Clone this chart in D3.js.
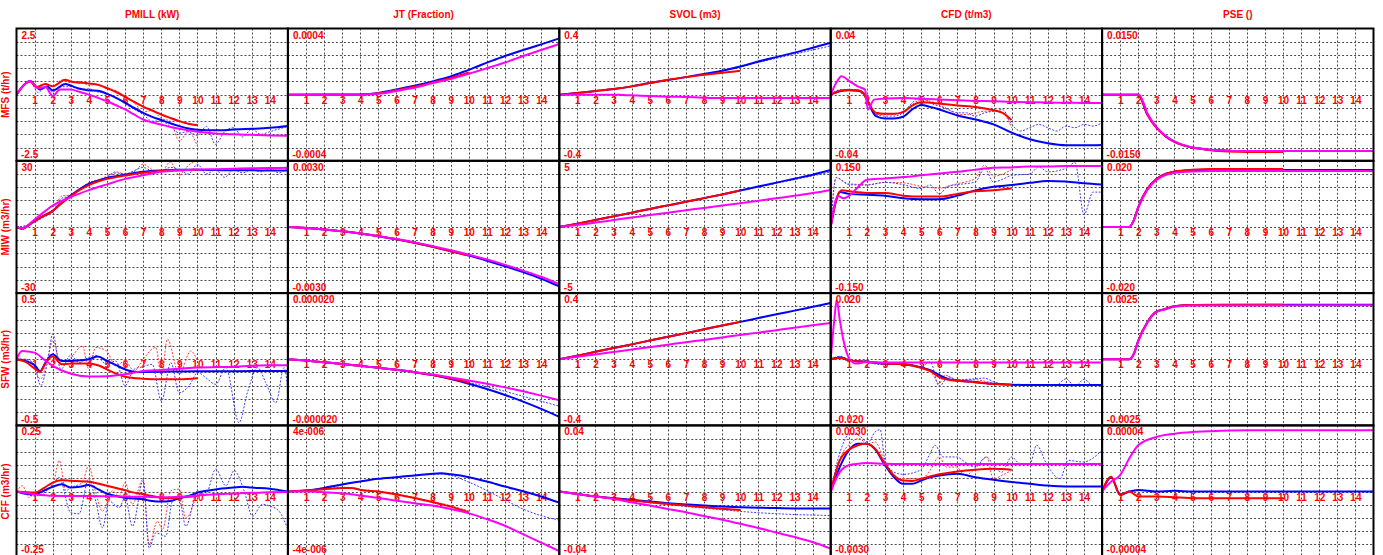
<!DOCTYPE html>
<html>
<head>
<meta charset="utf-8">
<script src="https://cdn.jsdelivr.net/npm/d3@7"></script>
<style>
  body { margin: 0; background: #fff; }
  svg { display: block; }
  text { font-family: "Liberation Sans", Arial, sans-serif; font-weight: bold; fill: #ff0000; }
</style>
</head>
<body>
<svg id="chart" width="1383" height="555"></svg>
<script>
// ---- Labels and scales ---------------------------------------------------
const outputs = ["PMILL (kW)", "JT (Fraction)", "SVOL (m3)", "CFD (t/m3)", "PSE ()"];
const inputs = ["MFS (t/hr)", "MIW (m3/hr)", "SFW (m3/hr)", "CFF (m3/hr)"];
const xTicks = [1, 2, 3, 4, 5, 6, 7, 8, 9, 10, 11, 12, 13, 14];
const yLimits = [
  [2.5, 0.0004, 0.4, 0.04, 0.015],
  [30, 0.003, 5, 0.15, 0.02],
  [0.5, 0.00002, 0.4, 0.02, 0.0025],
  [0.25, 0.000004, 0.04, 0.003, 0.00004]
];
const topLabels = [
  ["2.5", "0.0004", "0.4", "0.04", "0.0150"],
  ["30", "0.0030", "5", "0.150", "0.020"],
  ["0.5", "0.000020", "0.4", "0.020", "0.0025"],
  ["0.25", "4e-006", "0.04", "0.0030", "0.00004"]
];
const bottomLabels = [
  ["-2.5", "-0.0004", "-0.4", "-0.04", "-0.0150"],
  ["-30", "-0.0030", "-5", "-0.150", "-0.020"],
  ["-0.5", "-0.000020", "-0.4", "-0.020", "-0.0025"],
  ["-0.25", "-4e-006", "-0.04", "-0.0030", "-0.00004"]
];

// ---- Step responses: [time, value] ----------------------------------------
// MFS row
const mfsPmillRed = [[0,0],[0.5,0.42],[0.75,0.5],[1.1,0.28],[1.6,0.4],[2,0.32],[2.7,0.56],[3,0.5],[4,0.42],[4.5,0.37],[5,0.25],[5.5,0.1],[6,-0.08],[6.5,-0.27],[7,-0.45],[7.5,-0.6],[8,-0.75],[8.5,-0.88],[9,-1.0],[9.5,-1.1],[10,-1.16]];
const mfsPmillBlue = [[0,0],[0.5,0.42],[0.75,0.52],[1.3,0.19],[1.7,0.31],[2,0.16],[2.7,0.4],[3,0.34],[3.5,0.22],[4,0.16],[4.5,0.15],[5,0.03],[5.5,-0.12],[6,-0.3],[6.5,-0.5],[7,-0.69],[7.5,-0.84],[8,-0.96],[8.5,-1.08],[9,-1.19],[9.5,-1.28],[10,-1.33],[11,-1.35],[12,-1.32],[13,-1.29],[14,-1.25],[15,-1.18]];
const mfsPmillMag = [[0,0],[0.5,0.42],[0.75,0.52],[1.2,0.25],[1.6,0.29],[2,-0.05],[2.4,0.19],[3,0.19],[3.5,0.1],[4,0],[4.5,-0.12],[5,-0.25],[5.5,-0.4],[6,-0.56],[6.5,-0.75],[7,-0.94],[7.5,-1.05],[8,-1.13],[8.5,-1.22],[9,-1.29],[9.5,-1.35],[10,-1.4],[11,-1.47],[12,-1.5],[13,-1.52],[14,-1.54],[15,-1.55]];
const mfsPmillBlueDash = [[0,0],[0.5,0.4],[0.75,0.5],[1.2,0.08],[1.6,0.3],[2,0.12],[2.5,0.3],[3,0.3],[3.5,0.2],[4,0.22],[4.5,0.1],[5,0.05],[5.5,-0.1],[6,-0.35],[6.5,-0.55],[7,-0.75],[7.5,-1.0],[8,-1.0],[8.5,-1.2],[9,-1.45],[9.5,-1.4],[10,-1.55],[10.5,-1.2],[11,-1.88],[11.5,-1.4],[12,-1.25],[12.5,-1.6],[13,-1.3],[13.5,-1.5],[14,-1.4],[14.5,-1.3],[15,-1.2]];
const mfsPmillRedDash = [[0,0],[0.5,0.4],[0.75,0.5],[1.1,0.3],[1.5,0.4],[2,0.3],[2.5,0.55],[3,0.45],[3.5,0.5],[4,0.35],[4.5,0.4],[5,0.2],[5.5,0.15],[6,-0.1],[6.5,-0.3],[7,-0.65],[7.5,-0.6],[8,-0.9],[8.5,-1.0],[9,-1.75],[9.5,-1.4],[10,-1.95]];

const mfsJtRed = [[0,0],[4,0],[4.5,3e-6],[5,8e-6],[5.5,16e-6],[6,28e-6],[6.5,38e-6],[7,48e-6],[7.5,60e-6],[8,74e-6],[8.5,87e-6],[9,100e-6],[9.5,117e-6],[10,134e-6]];
const mfsJtBlue = [[0,0],[4,1e-6],[4.5,4e-6],[5,10e-6],[5.5,20e-6],[6,32e-6],[6.5,43e-6],[7,54e-6],[7.5,66e-6],[8,80e-6],[8.5,95e-6],[9,110e-6],[9.5,130e-6],[10,150e-6],[10.5,172e-6],[11,194e-6],[11.5,214e-6],[12,234e-6],[12.5,252e-6],[13,270e-6],[13.5,287e-6],[14,304e-6],[14.5,322e-6],[15,340e-6]];
const mfsJtMag = [[0,0],[4,0],[4.5,2e-6],[5,6e-6],[5.5,12e-6],[6,22e-6],[6.5,32e-6],[7,42e-6],[7.5,55e-6],[8,70e-6],[8.5,82e-6],[9,94e-6],[9.5,110e-6],[10,126e-6],[10.5,143e-6],[11,160e-6],[11.5,177e-6],[12,194e-6],[12.5,214e-6],[13,234e-6],[13.5,252e-6],[14,270e-6],[14.5,288e-6],[15,306e-6]];

const mfsSvolRed = [[0,0],[1,0.01],[2,0.022],[3,0.034],[4,0.05],[5,0.07],[6,0.09],[7,0.106],[8,0.12],[9,0.132],[10,0.144]];
const mfsSvolBlue = [[0,0],[1,0.01],[2,0.022],[3,0.034],[4,0.05],[5,0.07],[6,0.088],[7,0.106],[8,0.125],[9,0.144],[10,0.17],[11,0.2],[12,0.227],[13,0.254],[14,0.284],[15,0.314]];
const mfsSvolMag = [[0,0],[3,0],[3.5,-0.002],[4,-0.004],[5,-0.008],[6,-0.012],[7,-0.014],[8,-0.018],[9,-0.02],[15,-0.02]];
const mfsSvolBlueDash = [[0,0],[1,0.01],[2,0.022],[3,0.034],[4,0.05],[5,0.07],[6,0.088],[7,0.106],[8,0.125],[9,0.144],[10,0.168],[11,0.195],[12,0.22],[13,0.245],[14,0.27],[15,0.295]];

const mfsCfdRed = [[0,0],[0.5,0.0022],[1,0.0028],[1.5,0.0026],[1.8,0.001],[2,-0.003],[2.5,-0.011],[3,-0.0116],[3.5,-0.0116],[4,-0.0106],[4.5,-0.0066],[5,-0.0046],[6,-0.0054],[7,-0.0066],[8,-0.0074],[9,-0.0094],[9.5,-0.011],[10,-0.0154]];
const mfsCfdBlue = [[0,0],[0.5,0.002],[1,0.0026],[1.5,0.0024],[1.8,0.001],[2,-0.003],[2.5,-0.013],[3,-0.0144],[3.5,-0.0144],[4,-0.0134],[4.5,-0.009],[5,-0.0062],[5.5,-0.0074],[6,-0.009],[7,-0.0126],[8,-0.015],[9,-0.018],[10,-0.023],[11,-0.027],[12,-0.0294],[13,-0.0306],[14,-0.0306],[15,-0.0304]];
const mfsCfdMag = [[0,0],[0.3,0.007],[0.6,0.0112],[1,0.0085],[1.5,0.005],[1.9,0.003],[2.05,-0.009],[2.4,-0.003],[3,-0.0024],[4,-0.002],[5,-0.0025],[6,-0.003],[7,-0.0034],[8,-0.0038],[9,-0.004],[10,-0.0044],[11,-0.0046],[12,-0.0048],[13,-0.0049],[14,-0.005],[15,-0.005]];
const mfsCfdBlueDash = [[0,0],[0.5,0.003],[1,0.0032],[1.5,0.0025],[2,-0.002],[2.5,-0.012],[3,-0.013],[3.5,-0.013],[4,-0.011],[4.5,-0.005],[5,-0.001],[5.5,-0.005],[6,-0.007],[6.5,-0.009],[7,-0.011],[7.5,-0.011],[8,-0.013],[8.5,-0.011],[9,-0.01],[9.5,-0.009],[10,-0.018],[10.5,-0.022],[11,-0.02],[11.5,-0.018],[12,-0.02],[12.5,-0.022],[13,-0.019],[13.5,-0.02],[14,-0.018],[14.5,-0.019],[15,-0.017]];
const mfsCfdRedDash = [[0,0],[0.5,0.0025],[1,0.003],[1.5,0.002],[2,-0.003],[2.5,-0.012],[3,-0.012],[3.5,-0.012],[4,-0.01],[4.5,-0.006],[5,-0.003],[5.5,-0.004],[6,-0.006],[6.5,-0.009],[7,-0.012],[7.5,-0.012],[8,-0.011],[8.5,-0.01],[9,-0.01],[9.5,-0.011],[10,-0.02]];

const mfsPseRed = [[0,0],[2,0],[2.5,-0.0045],[3,-0.0075],[3.5,-0.0094],[4,-0.0107],[4.5,-0.0115],[5,-0.012],[6,-0.0126],[7,-0.0129],[8,-0.013],[10,-0.013]];
const mfsPseBlue = [[0,0],[2,0],[2.5,-0.0045],[3,-0.0075],[3.5,-0.0094],[4,-0.0107],[4.5,-0.0115],[5,-0.012],[6,-0.0125],[7,-0.0127],[8,-0.0128],[15,-0.0128]];
const mfsPseMag = [[0,0],[2.05,0],[2.5,-0.0042],[3,-0.0073],[3.5,-0.0093],[4,-0.0106],[4.5,-0.0114],[5,-0.012],[6,-0.0125],[7,-0.0127],[8,-0.0128],[15,-0.0128]];

// MIW row
const miwPmillRed = [[0,0],[0.3,-0.8],[1,2.8],[1.5,5],[2,7.3],[2.5,10.8],[3,14],[3.5,16.8],[4,19],[4.5,20.6],[5,21.8],[5.5,22.6],[6,23.3],[7,24.6],[8,25.4],[9,25.8],[10,25.9]];
const miwPmillBlue = [[0,0],[0.3,-0.8],[1,2.8],[1.5,5],[2,7.3],[2.5,11],[3,14.3],[3.5,17.2],[4,19.5],[4.5,21],[5,22.2],[5.5,23],[6,23.7],[7,25],[8,25.6],[9,25.9],[10,25.9],[11,25.8],[12,25.7],[13,25.7],[14,25.6],[15,25.6]];
const miwPmillMag = [[0,0],[0.3,-0.6],[1,3.4],[2,9.7],[3,13.6],[4,16.7],[5,19.3],[6,21.8],[7,23.4],[8,25],[9,25.6],[10,26],[11,26.2],[12,26.4],[13,26.6],[14,26.7],[15,26.8]];
const miwPmillBlueDash = [[0,0],[0.5,0.5],[1,2],[1.5,4.5],[2,6.5],[2.5,13],[3,14],[3.5,17],[4,20],[4.5,21],[5,22.5],[5.5,24.5],[6,24],[6.5,25.5],[7,27],[7.5,25.5],[8,25.5],[8.5,27],[9,26],[9.5,24],[10,28.4],[10.5,24],[11,26],[11.5,22.5],[12,26],[12.5,24.5],[13,26],[13.5,25],[14,26.5],[14.5,24.5],[15,27]];
const miwPmillRedDash = [[0,0],[0.5,0.5],[1,2.5],[1.5,4.5],[2,7],[2.5,14],[3,14.5],[3.5,17.5],[4,20],[4.5,21.5],[5,23],[5.5,25],[6,24],[6.5,25],[7,28.5],[7.5,26],[8,25],[8.5,29.5],[9,23.5],[9.5,28],[10,30]];

const miwJtRed = [[0,0],[1,-0.00005],[2,-0.00012],[3,-0.0002],[4,-0.0003],[5,-0.00042],[6,-0.00056],[7,-0.00072],[8,-0.0009],[9,-0.0011],[10,-0.0013]];
const miwJtBlue = [[0,0],[1,-0.00005],[2,-0.00012],[3,-0.0002],[4,-0.0003],[5,-0.00042],[6,-0.00056],[7,-0.00072],[8,-0.0009],[9,-0.0011],[10,-0.0013],[11,-0.00153],[12,-0.00178],[13,-0.00205],[14,-0.00235],[15,-0.0027]];
const miwJtMag = [[0,0],[1,-0.00005],[2,-0.00012],[3,-0.0002],[4,-0.0003],[5,-0.00042],[6,-0.00055],[7,-0.0007],[8,-0.00087],[9,-0.00106],[10,-0.00126],[11,-0.00148],[12,-0.00172],[13,-0.00198],[14,-0.00226],[15,-0.0026]];

const miwSvolRed = [[0,0],[1,0.25],[2,0.52],[3,0.8],[4,1.08],[5,1.36],[6,1.63],[7,1.9],[8,2.18],[9,2.46],[10,2.76]];
const miwSvolBlue = [[0,0],[1,0.25],[2,0.52],[3,0.8],[4,1.08],[5,1.36],[6,1.63],[7,1.9],[8,2.18],[9,2.46],[10,2.76],[11,3.05],[12,3.35],[13,3.65],[14,3.95],[15,4.3]];
const miwSvolMag = [[0,0],[1,0.15],[2,0.33],[3,0.52],[4,0.71],[5,0.9],[6,1.08],[7,1.26],[8,1.44],[9,1.62],[10,1.8],[11,1.98],[12,2.17],[13,2.36],[14,2.56],[15,2.8]];
const miwSvolBlueDash = [[0,0],[1,0.25],[2,0.52],[3,0.8],[4,1.08],[5,1.36],[6,1.63],[7,1.9],[8,2.18],[9,2.46],[10,2.74],[11,3.02],[12,3.3],[13,3.58],[14,3.86],[15,4.15]];

const miwCfdRed = [[0,0],[0.3,0.06],[0.6,0.083],[1,0.081],[2,0.077],[3,0.077],[4,0.071],[5,0.069],[6,0.069],[7,0.075],[8,0.081],[9,0.083],[10,0.087]];
const miwCfdBlue = [[0,0],[0.3,0.06],[0.5,0.079],[1,0.075],[2,0.073],[3,0.071],[4,0.065],[5,0.063],[6,0.063],[7,0.071],[8,0.083],[9,0.091],[10,0.095],[11,0.1],[12,0.104],[13,0.103],[14,0.099],[15,0.096]];
const miwCfdMag = [[0,0],[0.4,0.07],[0.7,0.065],[1,0.07],[1.5,0.09],[2,0.107],[3,0.11],[4,0.113],[5,0.117],[6,0.121],[7,0.125],[8,0.13],[9,0.134],[10,0.135],[11,0.137],[12,0.137],[13,0.138],[14,0.138],[15,0.138]];
const miwCfdBlueDash = [[0,0],[0.3,0.112],[1,0.096],[2,0.095],[3,0.101],[4,0.096],[5,0.087],[5.5,0.095],[6,0.075],[6.5,0.093],[7,0.096],[8,0.102],[8.5,0.133],[9,0.102],[9.5,0.108],[10,0.117],[11,0.12],[11.5,0.136],[12,0.125],[13,0.133],[13.5,0.146],[14,0.028],[14.5,0.079],[15,0.079]];
const miwCfdRedDash = [[0,0],[0.3,0.112],[1,0.098],[2,0.096],[3,0.101],[4,0.1],[5,0.092],[6,0.088],[7,0.098],[8,0.11],[8.5,0.14],[9,0.115],[9.5,0.12],[10,0.13]];

const miwPseRed = [[0,0],[1.5,0],[1.75,0.002],[2,0.006],[2.5,0.0115],[3,0.0145],[3.5,0.016],[4,0.0168],[5,0.0173],[6,0.0175],[10,0.0175]];
const miwPseBlue = [[0,0],[1.5,0],[1.75,0.002],[2,0.006],[2.5,0.0115],[3,0.0145],[3.5,0.016],[4,0.0167],[5,0.0171],[6,0.0172],[15,0.0172]];
const miwPseMag = [[0,0],[1.5,0],[1.75,0.002],[2,0.0058],[2.5,0.0112],[3,0.0142],[3.5,0.0157],[4,0.0164],[5,0.0168],[6,0.0169],[15,0.0169]];

// SFW row
const sfwPmillRed = [[0,0],[0.5,-0.02],[1,-0.07],[1.3,-0.096],[1.6,-0.03],[2,0.02],[2.5,-0.038],[3,-0.033],[4,-0.033],[4.5,-0.045],[5,-0.076],[5.5,-0.109],[6,-0.132],[7,-0.147],[8,-0.152],[9,-0.152],[10,-0.144]];
const sfwPmillBlue = [[0,0],[0.5,-0.013],[1,-0.045],[1.3,-0.09],[1.6,-0.025],[2,0.038],[2.5,-0.013],[3,-0.013],[3.5,-0.008],[4,0],[4.5,0.02],[5,-0.013],[5.5,-0.045],[6,-0.076],[6.5,-0.094],[7,-0.096],[8,-0.094],[9,-0.092],[10,-0.091],[12,-0.09],[15,-0.089]];
const sfwPmillMag = [[0,0],[0.3,0.063],[1,0.05],[1.5,0.0],[2,-0.05],[3,-0.11],[4,-0.13],[5,-0.128],[6,-0.114],[7,-0.089],[8,-0.081],[10,-0.063],[12,-0.056],[14,-0.045],[15,-0.045]];
const sfwPmillBlueDash = [[0,0],[0.5,0],[0.98,-0.038],[1.34,-0.2],[1.71,-0.025],[2,0.19],[2.45,-0.076],[3,0.03],[3.46,-0.025],[3.98,0.013],[4.38,0.03],[4.97,-0.038],[5.49,-0.013],[6,-0.2],[6.5,-0.076],[7,-0.056],[7.5,-0.038],[8.01,-0.316],[8.53,-0.025],[8.99,-0.253],[9.54,-0.2],[10.02,-0.1],[10.46,-0.139],[11.01,-0.19],[11.57,-0.063],[12.3,-0.48],[12.76,-0.253],[13.32,-0.063],[13.78,-0.177],[14.33,-0.329],[14.79,-0.063],[15,-0.228]];
const sfwPmillRedDash = [[0,0],[0.5,0],[0.98,-0.076],[1.34,-0.15],[1.71,0],[2,0.14],[2.45,-0.038],[3,0.013],[3.65,0.1],[3.98,-0.07],[4.38,0.089],[4.97,0.063],[5.49,-0.05],[6,-0.013],[6.5,-0.089],[7,0],[7.7,0.089],[8.01,-0.127],[8.34,0.152],[8.99,-0.114],[9.63,0.063],[10,-0.013]];

const sfwJtRed = [[0,0],[1,-0.4e-6],[2,-0.9e-6],[3,-1.4e-6],[4,-2e-6],[5,-2.6e-6],[6,-3.2e-6],[7,-3.9e-6],[8,-4.8e-6],[9,-5.8e-6],[10,-7e-6]];
const sfwJtBlue = [[0,0],[1,-0.4e-6],[2,-0.9e-6],[3,-1.4e-6],[4,-2e-6],[5,-2.6e-6],[6,-3.2e-6],[7,-3.9e-6],[8,-4.8e-6],[9,-6e-6],[10,-7.4e-6],[11,-9e-6],[12,-10.8e-6],[13,-12.8e-6],[14,-15e-6],[15,-17.4e-6]];
const sfwJtMag = [[0,0],[1,-0.4e-6],[2,-0.9e-6],[3,-1.4e-6],[4,-2e-6],[5,-2.6e-6],[6,-3.2e-6],[7,-3.9e-6],[8,-4.6e-6],[9,-5.5e-6],[10,-6.4e-6],[11,-7.4e-6],[12,-8.5e-6],[13,-9.7e-6],[14,-11e-6],[15,-12.4e-6]];
const sfwJtBlueDash = [[0,0],[1,-0.4e-6],[2,-0.9e-6],[3,-1.4e-6],[4,-2e-6],[5,-2.6e-6],[6,-3.2e-6],[7,-3.9e-6],[8,-4.8e-6],[9,-5.8e-6],[10,-7e-6],[11,-8.3e-6],[12,-9.7e-6],[13,-11.2e-6],[14,-12.7e-6],[15,-14.2e-6]];

const sfwSvolRed = [[0,0],[1,0.022],[2,0.045],[3,0.068],[4,0.09],[5,0.113],[6,0.136],[7,0.158],[8,0.181],[9,0.204],[10,0.226]];
const sfwSvolBlue = [[0,0],[1,0.022],[2,0.045],[3,0.068],[4,0.09],[5,0.113],[6,0.136],[7,0.158],[8,0.181],[9,0.204],[10,0.226],[11,0.249],[12,0.272],[13,0.294],[14,0.317],[15,0.34]];
const sfwSvolMag = [[0,0],[1,0.015],[2,0.029],[3,0.044],[4,0.059],[5,0.073],[6,0.088],[7,0.103],[8,0.117],[9,0.132],[10,0.147],[11,0.161],[12,0.176],[13,0.191],[14,0.205],[15,0.22]];

const sfwCfdRed = [[0,0],[0.5,0.0004],[1,-0.0003],[2,-0.0008],[3,-0.0013],[4,-0.0015],[5,-0.0026],[5.5,-0.0036],[6,-0.0054],[6.5,-0.0062],[7,-0.0065],[8,-0.007],[9,-0.0075],[10,-0.0077]];
const sfwCfdBlue = [[0,0],[0.5,0.0005],[1,-0.0003],[2,-0.0008],[3,-0.0013],[4,-0.0015],[5,-0.0025],[5.5,-0.0033],[6,-0.0048],[6.5,-0.006],[7,-0.0064],[8,-0.0069],[9,-0.0074],[10,-0.0077],[11,-0.0078],[15,-0.0078]];
const sfwCfdMag = [[0,0],[0.2,0.012],[0.33,0.0179],[0.5,0.012],[0.7,0.0058],[1.05,0],[1.4,-0.0013],[2,-0.0008],[3,-0.001],[15,-0.001]];
const sfwCfdBlueDash = [[0,0],[0.5,0.0009],[1,0],[1.5,-0.0008],[2,-0.0003],[2.5,-0.0015],[3,-0.0016],[4,-0.0012],[5,-0.0022],[5.5,-0.0008],[6,-0.0082],[6.5,-0.0053],[7,-0.0062],[8,-0.0059],[8.5,-0.0057],[9,-0.0068],[10,-0.0077],[11,-0.0076],[12,-0.0078],[12.5,-0.0077],[13,-0.0059],[13.5,-0.0082],[14,-0.0061],[14.5,-0.0079],[15,-0.0078]];
const sfwCfdRedDash = [[0,0],[0.5,0.0007],[1,-0.0002],[2,-0.0006],[3,-0.0014],[4,-0.0014],[5,-0.0024],[5.5,-0.0035],[6,-0.0074],[6.3,-0.0048],[7,-0.0063],[8,-0.0062],[9,-0.0072],[10,-0.0076]];

const sfwPseRed = [[0,0],[1.5,0],[1.75,0.0002],[2,0.0007],[2.5,0.0014],[3,0.0018],[3.5,0.0019],[4,0.002],[5,0.00205],[10,0.00206]];
const sfwPseBlue = [[0,0],[1.5,0],[1.75,0.0002],[2,0.0007],[2.5,0.0014],[3,0.0018],[3.5,0.0019],[4,0.002],[5,0.00205],[15,0.00206]];
const sfwPseMag = [[0,0],[1.5,0],[1.75,0.0002],[2,0.00068],[2.5,0.00138],[3,0.00178],[3.5,0.00189],[4,0.00198],[5,0.00203],[15,0.00204]];

// CFF row
const cffPmillRed = [[0,0],[1,-0.004],[1.5,0.013],[2,0.034],[2.5,0.043],[3,0.041],[4,0.037],[5,0.022],[6,0.005],[6.5,-0.004],[7,-0.01],[7.5,-0.017],[8,-0.023],[8.5,-0.025],[9,-0.023],[9.5,-0.02],[10,-0.017]];
const cffPmillBlue = [[0,0],[0.5,-0.008],[1,-0.01],[1.5,0.003],[2,0.018],[2.5,0.028],[3,0.015],[3.5,0.018],[4,0.025],[4.5,0.009],[5,-0.008],[5.5,-0.017],[6,-0.023],[6.5,-0.026],[7,-0.029],[7.5,-0.036],[8,-0.038],[8.5,-0.036],[9,-0.025],[9.5,-0.017],[10,-0.004],[10.5,0.003],[11,0.008],[12,0.015],[12.5,0.018],[13,0.015],[14,0.011],[15,0]];
const cffPmillMag = [[0,0],[1,-0.01],[2,-0.016],[3,-0.017],[4,-0.017],[5,-0.018],[6,-0.019],[7,-0.02],[8,-0.022],[9,-0.02],[10,-0.015],[11,-0.01],[12,-0.007],[13,-0.005],[14,-0.003],[15,-0.002]];
const cffPmillBlueDash = [[0,0],[0.52,-0.01],[0.98,-0.017],[1.53,-0.004],[2.08,0.034],[2.36,0.053],[3,-0.08],[3.46,-0.084],[3.98,0.047],[4.38,-0.036],[4.75,-0.137],[5.12,-0.036],[5.67,-0.061],[6,-0.023],[6.41,-0.131],[7,0.041],[7.33,-0.213],[7.7,-0.156],[8.25,-0.169],[8.62,-0.036],[8.99,-0.029],[9.36,-0.131],[10,0.003],[10.46,-0.01],[11.01,0.085],[11.57,0.022],[12.03,0.079],[12.58,0.003],[13.04,-0.093],[13.59,-0.048],[14,-0.055],[14.51,-0.074],[15,-0.144]];
const cffPmillRedDash = [[0,0],[0.33,0.022],[0.7,-0.023],[0.98,-0.004],[1.53,0.003],[2,0.022],[2.36,0.117],[2.73,0.003],[3,0.015],[3.65,0.034],[3.98,0.098],[4.38,-0.004],[4.75,-0.074],[5.3,0.003],[5.67,-0.017],[6,0.034],[6.4,-0.048],[7,0.047],[7.33,-0.2],[7.79,-0.112],[8.07,-0.144],[8.53,0.003],[8.99,0.009],[9.36,-0.1],[10,0.003]];

const cffJtRed = [[0,0],[1,0.06e-6],[2,0.14e-6],[3,0.22e-6],[3.5,0.22e-6],[4,0.1e-6],[5,0],[6,-0.18e-6],[7,-0.39e-6],[8,-0.65e-6],[9,-0.91e-6],[10,-1.26e-6]];
const cffJtBlue = [[0,0],[1,0.06e-6],[2,0.22e-6],[3,0.43e-6],[4,0.61e-6],[5,0.77e-6],[6,0.87e-6],[7,0.97e-6],[8,1.08e-6],[8.5,1.1e-6],[9,1.04e-6],[10,0.87e-6],[11,0.61e-6],[12,0.3e-6],[13,0.02e-6],[14,-0.3e-6],[15,-0.67e-6]];
const cffJtMag = [[0,0],[1,0],[2,-0.04e-6],[3,-0.1e-6],[4,-0.24e-6],[5,-0.39e-6],[6,-0.55e-6],[7,-0.71e-6],[8,-0.85e-6],[9,-1.06e-6],[10,-1.32e-6],[11,-1.67e-6],[12,-2.07e-6],[13,-2.58e-6],[14,-3.09e-6],[15,-3.6e-6]];
const cffJtBlueDash = [[0,0],[1,0.06e-6],[2,0.24e-6],[3,0.45e-6],[4,0.62e-6],[5,0.78e-6],[6,0.88e-6],[7,0.98e-6],[8,1.06e-6],[8.5,1.05e-6],[9,0.98e-6],[10,0.57e-6],[11,0.06e-6],[12,-0.51e-6],[13,-1.06e-6],[14,-1.46e-6],[15,-1.73e-6]];
const cffJtRedDash = [[0,0],[1,0.08e-6],[2,0.18e-6],[3,0.26e-6],[3.5,0.25e-6],[4,0.14e-6],[5,0.02e-6],[6,-0.15e-6],[7,-0.36e-6],[8,-0.6e-6],[9,-0.86e-6],[10,-1.18e-6]];

const cffSvolRed = [[0,0],[1,-0.0015],[2,-0.003],[3,-0.0042],[4,-0.0054],[5,-0.0065],[6,-0.0075],[7,-0.0085],[8,-0.0095],[9,-0.0104],[10,-0.0112]];
const cffSvolBlue = [[0,0],[1,-0.0015],[2,-0.003],[3,-0.004],[4,-0.005],[5,-0.006],[6,-0.007],[7,-0.0078],[8,-0.0085],[9,-0.009],[10,-0.0095],[11,-0.0098],[12,-0.01],[13,-0.0102],[14,-0.0103],[15,-0.0103]];
const cffSvolMag = [[0,0],[1,-0.0015],[2,-0.003],[3,-0.0045],[4,-0.0065],[5,-0.0085],[6,-0.0105],[7,-0.0125],[8,-0.0148],[9,-0.017],[10,-0.0195],[11,-0.022],[12,-0.0248],[13,-0.0275],[14,-0.0305],[15,-0.0345]];
const cffSvolBlueDash = [[0,0],[1,-0.0015],[2,-0.003],[3,-0.0043],[4,-0.0055],[5,-0.0067],[6,-0.0079],[7,-0.009],[8,-0.01],[9,-0.011],[10,-0.012],[11,-0.0128],[12,-0.0134],[13,-0.0139],[14,-0.0142],[15,-0.0145]];

const cffCfdRed = [[0,0],[0.5,0.00141],[1,0.0019],[1.5,0.0021],[2,0.00217],[2.5,0.0019],[3,0.00126],[3.5,0.00073],[4,0.0005],[4.5,0.00048],[5,0.00058],[6,0.00078],[7,0.00091],[8,0.00099],[9,0.00103],[10,0.00099]];
const cffCfdBlue = [[0,0],[0.5,0.00111],[1,0.00187],[1.5,0.00217],[2,0.00217],[2.5,0.00187],[3,0.00119],[3.5,0.00065],[4,0.00035],[4.5,0.00035],[5,0.0005],[5.5,0.00065],[6,0.00073],[7,0.00081],[8,0.00065],[9,0.00053],[10,0.00043],[11,0.00035],[12,0.00027],[13,0.00023],[14,0.00023],[15,0.00023]];
const cffCfdMag = [[0,0],[0.5,0.00088],[1,0.00119],[1.5,0.00126],[2,0.00129],[3,0.00126],[4,0.00125],[15,0.00125]];
const cffCfdBlueDash = [[0,0],[0.55,0.00187],[1.07,0.00263],[1.53,0.00255],[2.08,0.00225],[2.45,0.0027],[2.73,0.00281],[3,0.00141],[3.5,0.00088],[4.01,0.00078],[4.51,0.00084],[5.03,0.00103],[5.49,0.00172],[5.76,0.0021],[6.22,0.00157],[6.96,0.00157],[7.42,0.00134],[7.97,0.00111],[8.62,0.00157],[8.99,0.00119],[9.45,0.00088],[10,0.00157],[10.46,0.00126],[11.01,0.00126],[11.38,0.0021],[11.93,0.00126],[12.67,0.00058],[13.13,0.00141],[13.96,0.00134],[15,0.00187]];
const cffCfdRedDash = [[0,0],[0.55,0.00157],[1.07,0.00217],[1.53,0.0024],[2.08,0.00217],[2.45,0.00225],[3,0.00134],[3.5,0.00065],[4.01,0.00058],[4.51,0.00058],[5.03,0.00058],[5.49,0.00096],[5.99,0.00157],[6.41,0.00111],[6.96,0.00111],[7.42,0.00073],[7.97,0.00103],[8.62,0.00157],[8.99,0.00058],[9.45,0.00073],[10,0.00096]];

const cffPseRed = [[0,0],[0.5,9e-6],[1,-2e-6],[1.5,0],[2,-3e-6],[3,-3e-6],[5,-4e-6],[10,-4e-6]];
const cffPseBlue = [[0,0],[0.5,8.5e-6],[1,-2e-6],[1.5,0],[2,1e-6],[3,0],[4,0.5e-6],[5,0],[15,0]];
const cffPseMag = [[0,0],[0.5,6e-6],[1,10e-6],[1.5,20e-6],[2,28e-6],[3,33e-6],[4,35e-6],[5,36e-6],[6,36.5e-6],[8,37e-6],[15,37e-6]];

// One entry per cell: row = input, col = output.
const cells = [
  { r: 0, c: 0, red: mfsPmillRed, blue: mfsPmillBlue, mag: mfsPmillMag, redDash: mfsPmillRedDash, blueDash: mfsPmillBlueDash },
  { r: 0, c: 1, red: mfsJtRed, blue: mfsJtBlue, mag: mfsJtMag },
  { r: 0, c: 2, red: mfsSvolRed, blue: mfsSvolBlue, mag: mfsSvolMag, blueDash: mfsSvolBlueDash },
  { r: 0, c: 3, red: mfsCfdRed, blue: mfsCfdBlue, mag: mfsCfdMag, redDash: mfsCfdRedDash, blueDash: mfsCfdBlueDash },
  { r: 0, c: 4, red: mfsPseRed, blue: mfsPseBlue, mag: mfsPseMag },
  { r: 1, c: 0, red: miwPmillRed, blue: miwPmillBlue, mag: miwPmillMag, redDash: miwPmillRedDash, blueDash: miwPmillBlueDash },
  { r: 1, c: 1, red: miwJtRed, blue: miwJtBlue, mag: miwJtMag },
  { r: 1, c: 2, red: miwSvolRed, blue: miwSvolBlue, mag: miwSvolMag, blueDash: miwSvolBlueDash },
  { r: 1, c: 3, red: miwCfdRed, blue: miwCfdBlue, mag: miwCfdMag, redDash: miwCfdRedDash, blueDash: miwCfdBlueDash },
  { r: 1, c: 4, red: miwPseRed, blue: miwPseBlue, mag: miwPseMag },
  { r: 2, c: 0, red: sfwPmillRed, blue: sfwPmillBlue, mag: sfwPmillMag, redDash: sfwPmillRedDash, blueDash: sfwPmillBlueDash },
  { r: 2, c: 1, red: sfwJtRed, blue: sfwJtBlue, mag: sfwJtMag, blueDash: sfwJtBlueDash },
  { r: 2, c: 2, red: sfwSvolRed, blue: sfwSvolBlue, mag: sfwSvolMag },
  { r: 2, c: 3, red: sfwCfdRed, blue: sfwCfdBlue, mag: sfwCfdMag, redDash: sfwCfdRedDash, blueDash: sfwCfdBlueDash },
  { r: 2, c: 4, red: sfwPseRed, blue: sfwPseBlue, mag: sfwPseMag },
  { r: 3, c: 0, red: cffPmillRed, blue: cffPmillBlue, mag: cffPmillMag, redDash: cffPmillRedDash, blueDash: cffPmillBlueDash },
  { r: 3, c: 1, red: cffJtRed, blue: cffJtBlue, mag: cffJtMag, redDash: cffJtRedDash, blueDash: cffJtBlueDash },
  { r: 3, c: 2, red: cffSvolRed, blue: cffSvolBlue, mag: cffSvolMag, blueDash: cffSvolBlueDash },
  { r: 3, c: 3, red: cffCfdRed, blue: cffCfdBlue, mag: cffCfdMag, redDash: cffCfdRedDash, blueDash: cffCfdBlueDash },
  { r: 3, c: 4, red: cffPseRed, blue: cffPseBlue, mag: cffPseMag }
];

// ---- Layout ----------------------------------------------------------------
const pageH = 555;
const gridLeft = 16.5, gridTop = 28.5, cellW = 271.4, cellH = 132.3;
const tMax = 15;

const svg = d3.select("#chart");
svg.append("rect").attr("width", 1383).attr("height", pageH).attr("fill", "#fff");

const styles = {
  redDash:  { stroke: "#ff3b3b", width: 1, dash: "2,1.5" },
  blueDash: { stroke: "#3b3bff", width: 1, dash: "2,1.5" },
  blue:     { stroke: "#0000ff", width: 2 },
  red:      { stroke: "#ff0000", width: 2 },
  mag:      { stroke: "#ff00ff", width: 2 }
};
const drawOrder = ["redDash", "blueDash", "blue", "red", "mag"];

cells.forEach((cell, i) => {
  const x0 = gridLeft + cell.c * cellW;
  const y0 = gridTop + cell.r * cellH;
  const lim = yLimits[cell.r][cell.c];
  const x = d3.scaleLinear().domain([0, tMax]).range([x0, x0 + cellW]);
  const y = d3.scaleLinear().domain([-lim, lim]).range([y0 + cellH, y0]);

  const clipId = "clip" + i;
  svg.append("clipPath").attr("id", clipId)
    .append("rect").attr("x", x0).attr("y", y0).attr("width", cellW).attr("height", cellH);

  const g = svg.append("g");

  // dotted grid: one line per time unit, ten bands vertically
  const grid = g.append("g").attr("stroke", "#4a4a4a").attr("stroke-width", 1).attr("stroke-dasharray", "2,2");
  grid.selectAll("line.v").data(xTicks).join("line").attr("class", "v")
    .attr("x1", d => Math.round(x(d)) + 0.5).attr("x2", d => Math.round(x(d)) + 0.5)
    .attr("y1", y0).attr("y2", y0 + cellH);
  const hVals = d3.range(1, 10).map(k => -lim + k * lim / 5);
  grid.selectAll("line.h").data(hVals).join("line").attr("class", "h")
    .attr("x1", x0).attr("x2", x0 + cellW)
    .attr("y1", d => Math.round(y(d)) + 0.5).attr("y2", d => Math.round(y(d)) + 0.5);

  // time labels along the zero line
  const axis = g.append("g")
    .attr("transform", `translate(0,${y(0)})`)
    .call(d3.axisBottom(x).tickValues(xTicks).tickSize(0).tickPadding(2).tickFormat(d3.format("d")));
  axis.select(".domain").remove();
  axis.selectAll("text")
    .attr("fill", "#ff0000")
    .style("font-size", "10px")
    .style("font-family", "'Liberation Sans', Arial, sans-serif")
    .style("font-weight", "bold");

  // response curves
  const line = d3.line().x(d => x(d[0])).y(d => y(d[1])).curve(d3.curveMonotoneX);
  const curves = g.append("g").attr("clip-path", `url(#${clipId})`);
  drawOrder.forEach(key => {
    if (!cell[key]) return;
    const st = styles[key];
    curves.append("path")
      .datum(cell[key])
      .attr("fill", "none")
      .attr("stroke", st.stroke)
      .attr("stroke-width", st.width)
      .attr("stroke-dasharray", st.dash || null)
      .attr("stroke-linejoin", "round")
      .attr("d", line);
  });

  // range labels (the lowest row runs past the page edge)
  g.append("text").attr("x", x0 + 5).attr("y", y0 + 10)
    .style("font-size", "10px").text(topLabels[cell.r][cell.c]);
  g.append("text").attr("x", x0 + 4.5).attr("y", Math.min(y0 + cellH - 2.5, pageH - 2.5))
    .style("font-size", "10px").text(bottomLabels[cell.r][cell.c]);
});

// cell borders
const borders = svg.append("g").attr("fill", "none").attr("stroke", "#000").attr("stroke-width", 2);
cells.forEach(cell => {
  borders.append("rect")
    .attr("x", gridLeft + cell.c * cellW).attr("y", gridTop + cell.r * cellH)
    .attr("width", cellW).attr("height", cellH);
});

// output titles
svg.append("g").selectAll("text").data(outputs).join("text")
  .attr("x", (d, i) => gridLeft + i * cellW + cellW / 2)
  .attr("y", 18)
  .attr("text-anchor", "middle")
  .style("font-size", "10px")
  .text(d => d);

// input titles
svg.append("g").selectAll("text").data(inputs).join("text")
  .attr("transform", (d, i) => `translate(9,${gridTop + i * cellH + cellH / 2}) rotate(-90)`)
  .attr("text-anchor", "middle")
  .style("font-size", "10px")
  .text(d => d);
</script>
</body>
</html>
